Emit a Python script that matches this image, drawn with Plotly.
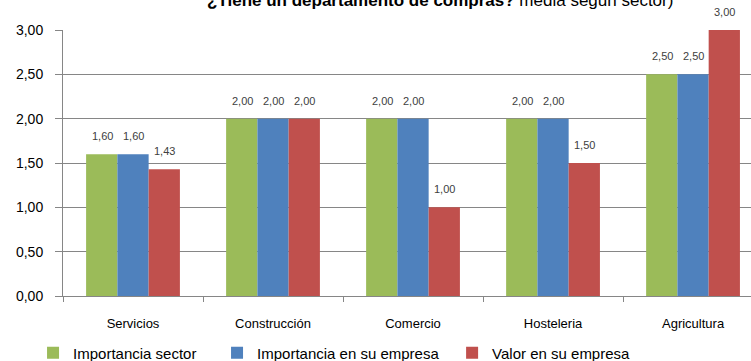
import plotly.graph_objects as go

# datos
sectores = ["Servicios", "Construcción", "Comercio", "Hosteleria", "Agricultura"]
importancia_sector = [1.60, 2.00, 2.00, 2.00, 2.50]
importancia_empresa = [1.60, 2.00, 2.00, 2.00, 2.50]
valor_empresa = [1.43, 2.00, 1.00, 1.50, 3.00]

series = [
    ("Importancia sector", importancia_sector, "#9BBB59", "legend", 0.044, -31),
    ("Importancia en su empresa", importancia_empresa, "#4F81BD", "legend2", 0.289, 0),
    ("Valor en su empresa", valor_empresa, "#C0504D", "legend3", 0.602, 31),
]

FONT = "Liberation Sans Narrow, Arial Narrow, sans-serif"

fig = go.Figure()
legends = {}
etiquetas = []
for nombre, valores, color, leg, lx, dx in series:
    fig.add_trace(go.Bar(
        x=sectores, y=valores, name=nombre,
        marker=dict(color=color, line=dict(width=0)),
        legend=leg, showlegend=True,
    ))
    legends[leg] = dict(orientation="h", xref="container", yref="container",
                        x=lx, y=0.022, xanchor="left", yanchor="middle",
                        font=dict(size=15, color="#000000", family=FONT),
                        bgcolor="rgba(0,0,0,0)")
    # etiquetas de valor encima de cada barra
    for s, v in zip(sectores, valores):
        etiquetas.append(dict(
            x=s, y=v, xref="x", yref="y", xshift=dx, yshift=18,
            xanchor="center", yanchor="middle", showarrow=False,
            text=f"{v:.2f}".replace(".", ","),
            font=dict(size=11, color="#404040", family=FONT),
        ))

etiquetas.append(dict(
    xref="paper", yref="paper", x=0.206, y=1.11, xanchor="left", yanchor="middle",
    text="<b>¿Tiene un departamento de compras?</b> media según sector)",
    showarrow=False, font=dict(size=17, color="#000000", family=FONT),
))

fig.update_layout(
    width=751, height=361,
    margin=dict(l=63, r=0, t=30, b=65, autoexpand=False),
    plot_bgcolor="white", paper_bgcolor="white",
    barmode="group", bargap=0.33, bargroupgap=0,
    showlegend=True,
    font=dict(family=FONT, color="#000000"),
    **legends,
    xaxis=dict(
        range=[-0.5, 4.414], showgrid=False,
        showline=True, linecolor="#868686", linewidth=1,
        ticks="outside", tickson="boundaries", ticklen=5, tickcolor="#868686",
        tickfont=dict(size=13, color="#000000"), ticklabelstandoff=15,
    ),
    yaxis=dict(
        range=[0, 3], dtick=0.5, tickformat=".2f",
        showgrid=True, gridcolor="#868686", gridwidth=1,
        showline=True, linecolor="#868686", linewidth=1,
        ticks="outside", ticklen=7, tickcolor="#868686",
        tickfont=dict(size=14, color="#000000"), ticklabelstandoff=9,
        zeroline=False,
    ),
    separators=",.",
    annotations=etiquetas,
)

# sin margen del body para que la figura ocupe toda la ventana
fig.write_html("out.html", config={"displayModeBar": False},
               post_script="document.body.style.margin = '0';")
